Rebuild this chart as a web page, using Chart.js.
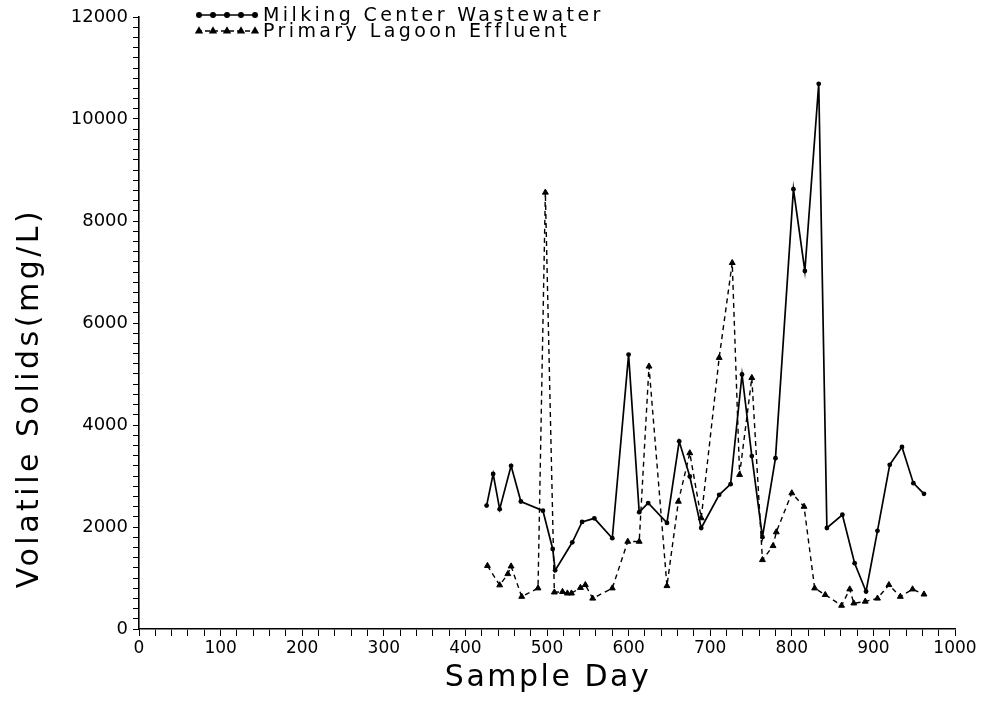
<!DOCTYPE html>
<html>
<head>
<meta charset="utf-8">
<script src="https://cdn.jsdelivr.net/npm/chart.js@4.4.0/dist/chart.umd.min.js"></script>
<style>
  html, body { margin: 0; padding: 0; background: #fff; }
  #wrap { width: 986px; height: 706px; position: relative; }
</style>
</head>
<body>
<div id="wrap"><canvas id="vsChart"></canvas></div>
<script>
// Milking center wastewater (solid line, dots)
const milkingDays = [426, 434, 442, 456, 468, 495, 507, 510, 531, 543, 558, 580, 600, 613, 624, 647, 662, 675, 689, 711, 725, 739, 751, 764, 780, 802, 816, 833, 843, 862, 877, 891, 905, 920, 935, 949, 962];
const milkingVS = [2420, 3040, 2350, 3200, 2500, 2320, 1570, 1150, 1700, 2100, 2170, 1780, 5380, 2290, 2470, 2080, 3680, 2990, 1980, 2630, 2840, 4990, 3390, 1800, 3350, 8625, 7020, 10690, 1980, 2240, 1290, 735, 1925, 3220, 3570, 2860, 2650];

// Primary lagoon effluent (dashed line, triangles)
const lagoonDays = [427, 442, 452, 456, 469, 489, 498, 509, 519, 525, 530, 541, 547, 556, 580, 599, 613, 625, 647, 661, 675, 689, 711, 727, 736, 751, 764, 777, 781, 800, 815, 828, 841, 861, 871, 876, 890, 905, 919, 933, 948, 962];
const lagoonVS = [1240, 860, 1080, 1230, 635, 800, 8560, 720, 730, 700, 700, 810, 865, 600, 800, 1715, 1715, 5150, 845, 2500, 3450, 2175, 5320, 7180, 3025, 4925, 1355, 1630, 1900, 2665, 2400, 800, 670, 460, 780, 505, 540, 600, 865, 635, 780, 680];

const seriesNames = ['Milking Center Wastewater', 'Primary Lagoon Effluent'];
const xTickLabels = [0, 100, 200, 300, 400, 500, 600, 700, 800, 900, 1000];
const yTickLabels = [0, 2000, 4000, 6000, 8000, 10000, 12000];
const xTitle = 'Sample Day';
const yTitle = 'Volatile Solids(mg/L)';

const FONT = '"DejaVu Sans", sans-serif';
Chart.defaults.font.family = FONT;
Chart.defaults.color = '#000';

const toPoints = (xs, ys) => xs.map((x, i) => ({ x: x, y: ys[i] }));

// Legend and axis titles, drawn with the wide letter spacing of the original
const decorations = {
    id: 'decorations',
    afterDraw(chart) {
        const ctx = chart.ctx;
        const rows = [
            { y: 15, dash: [], style: 'circle', r: 2.2 },
            { y: 31, dash: [5, 3], style: 'triangle', r: 3.2 }
        ];
        ctx.save();
        ctx.fillStyle = '#000';
        ctx.strokeStyle = '#000';
        rows.forEach((row, i) => {
            ctx.lineWidth = 1.6;
            ctx.setLineDash(row.dash);
            ctx.beginPath();
            ctx.moveTo(197, row.y);
            ctx.lineTo(256, row.y);
            ctx.stroke();
            ctx.setLineDash([]);
            for (let k = 0; k < 5; k++) {
                Chart.helpers.drawPoint(ctx, { pointStyle: row.style, radius: row.r, borderWidth: 1 }, 199 + k * 14, row.y);
                ctx.fill();
            }
            ctx.font = '19px ' + FONT;
            ctx.letterSpacing = '3.4px';
            ctx.textBaseline = 'middle';
            ctx.textAlign = 'left';
            ctx.fillText(seriesNames[i], 263, row.y + 1);
        });

        ctx.font = '30px ' + FONT;
        ctx.letterSpacing = '2.5px';
        ctx.textAlign = 'center';
        ctx.textBaseline = 'middle';
        ctx.fillText(xTitle, 548, 678);

        ctx.letterSpacing = '3.5px';
        ctx.translate(30, 398);
        ctx.rotate(-Math.PI / 2);
        ctx.fillText(yTitle, 0, 0);
        ctx.restore();
    }
};

new Chart(document.getElementById('vsChart'), {
    type: 'line',
    data: {
        datasets: [
            {
                label: seriesNames[0],
                data: toPoints(milkingDays, milkingVS),
                borderColor: '#000',
                backgroundColor: '#000',
                borderWidth: 1.7,
                pointStyle: 'circle',
                pointRadius: 2.4,
                pointBorderWidth: 0,
                tension: 0,
                fill: false
            },
            {
                label: seriesNames[1],
                data: toPoints(lagoonDays, lagoonVS),
                borderColor: '#000',
                backgroundColor: '#000',
                borderWidth: 1.4,
                borderDash: [5, 4],
                pointStyle: 'triangle',
                pointRadius: 3.4,
                pointBorderWidth: 1,
                tension: 0,
                fill: false
            }
        ]
    },
    options: {
        responsive: true,
        maintainAspectRatio: false,
        animation: false,
        layout: { padding: { top: 17, right: 31, left: 0, bottom: 0 } },
        plugins: {
            legend: { display: false },
            tooltip: { enabled: false }
        },
        scales: {
            x: {
                type: 'linear',
                min: 0,
                max: 1000,
                afterFit: s => { s.height = 77; },
                border: { color: '#000', width: 1.6 },
                grid: { drawOnChartArea: false, color: '#000', tickLength: 7, lineWidth: 1 },
                ticks: {
                    stepSize: 20,
                    autoSkip: false,
                    maxRotation: 0,
                    padding: 2,
                    font: { size: 17 },
                    callback: v => xTickLabels.includes(v) ? String(v) : ''
                }
            },
            y: {
                type: 'linear',
                min: 0,
                max: 12000,
                afterFit: s => { s.width = 139; },
                border: { color: '#000', width: 1.6 },
                grid: { drawOnChartArea: false, color: '#000', tickLength: 6, lineWidth: 1 },
                ticks: {
                    stepSize: 200,
                    autoSkip: false,
                    padding: 5,
                    font: { size: 18 },
                    callback: v => yTickLabels.includes(v) ? String(v) : ''
                }
            }
        }
    },
    plugins: [decorations]
});
</script>
</body>
</html>
